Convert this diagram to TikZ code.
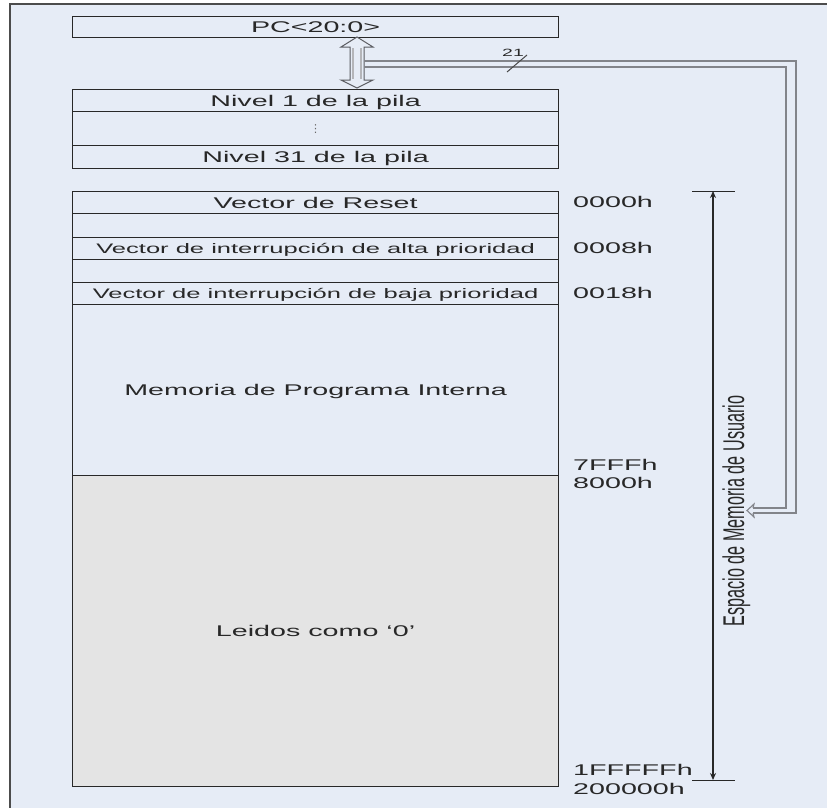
\documentclass[tikz,border=0pt]{standalone}
\usepackage{fontspec}
\setmainfont{Liberation Sans}
\newfontfamily\fA{Liberation Sans}[FakeStretch=1.85]
\newfontfamily\fB{Liberation Sans}
\newfontfamily\fD{DejaVu Sans}
\usetikzlibrary{arrows.meta}
\definecolor{bg}{RGB}{230,236,246}
\definecolor{graybox}{RGB}{228,228,228}
\definecolor{ink}{RGB}{40,40,40}
\definecolor{bus}{RGB}{130,132,138}
\tikzset{
 cell/.style={draw=ink, line width=1.2pt, fill=bg, minimum width=486pt, inner sep=0pt, anchor=north west, text=ink},
 row/.style={cell, text height=11.1pt, text depth=0pt, font=\fA\fontsize{15.5}{18}\selectfont},
 smallrow/.style={cell, text height=9.9pt, text depth=0pt, font=\fA\fontsize{13.8}{16}\selectfont},
 addr/.style={anchor=base west, inner sep=0pt, text=ink, font=\fA\fontsize{15.5}{18}\selectfont},
 busline/.style={draw=bus, line width=1.3pt},
 tick/.style={draw=ink, line width=1pt},
}
\begin{document}
\begin{tikzpicture}[x=1pt,y=-1pt]
\useasboundingbox (0,0) rectangle (827,807);
\fill[white] (0,0) rectangle (827,807);
\draw[fill=bg, draw=black!70, line width=1.2pt] (10,4) rectangle (840,820);

% stack and PC
\node[row, minimum height=21pt] (pc) at (72,16) {PC<20:0>};
\node[row, minimum height=22pt] (n1) at (72,89) {Nivel 1 de la pila};
\node[cell, minimum height=34pt, text=ink!70, font=\fD\fontsize{11}{12}\selectfont] (dots) at (72,111) {⋮};
\node[row, minimum height=23pt] (n31) at (72,145) {Nivel 31 de la pila};

% memory map
\node[row, minimum height=22pt] (reset) at (72,191) {Vector de Reset};
\node[cell, minimum height=24pt] (e1) at (72,213) {};
\node[smallrow, minimum height=22pt] (alta) at (72,237) {Vector de interrupción de alta prioridad};
\node[cell, minimum height=23pt] (e2) at (72,259) {};
\node[smallrow, minimum height=22pt] (baja) at (72,282) {Vector de interrupción de baja prioridad};
\node[row, minimum height=171pt] (mem) at (72,304) {Memoria de Programa Interna};
\node[row, minimum height=311pt, fill=graybox] (leidos) at (72,475) {Leidos como ‘0’};

% addresses
\node[addr] (a0) at (573,207.3) {0000h};
\node[addr] (a8) at (573,253.3) {0008h};
\node[addr] (a18) at (573,298.3) {0018h};
\node[addr] (a7f) at (573,470) {7FFFh};
\node[addr] (a80) at (573,488) {8000h};
\node[addr] (a1f) at (573,775.5) {1FFFFFh};
\node[addr] (a20) at (573,794) {200000h};

% user space arrow
\coordinate (top) at (713,191);
\coordinate (bot) at (713,780);
\draw[tick] ([xshift=-21pt]top) -- ([xshift=22pt]top);
\draw[tick] ([xshift=-21pt]bot) -- ([xshift=22pt]bot);
\draw[ink, line width=1.2pt, {Stealth[length=7pt,width=6pt]}-{Stealth[length=7pt,width=6pt]}] (top) -- (bot);
\node[rotate=90, anchor=base, inner sep=0pt, text=ink] (lbl) at (744,511)
  {\scalebox{1}[1.85]{\fB\fontsize{16.2}{18}\selectfont Espacio de Memoria de Usuario}};

% double arrow between PC and stack
\draw[fill=bg, draw=bus!70!black, line width=1pt]
  (357,37) -- (373,47) -- (364,47) -- (364,80) -- (373,80) -- (357,88)
  -- (341,80) -- (350,80) -- (350,47) -- (341,47) -- cycle;
\draw[bus!60, line width=2pt] (353,48) -- (353,79);
\draw[bus!60, line width=2pt] (361,48) -- (361,79);

% bus to address space
\coordinate (bo1) at (364,61);
\coordinate (bi1) at (364,67);
\coordinate (bo2) at (753,513);
\coordinate (bi2) at (753,508);
\draw[busline] (bo1) -- (796,61) -- (796,513) -- (bo2);
\draw[busline] (bi1) -- (786,67) -- (786,508) -- (bi2);
\draw[busline, line width=1.1pt] (bi2) -- (754,504) -- (747,510.5) -- (754,517) -- (bo2);
\draw[ink!85, line width=1pt] (507,72) -- (527,55);
\node[anchor=base west, inner sep=0pt, text=ink, font=\fA\fontsize{10.5}{12}\selectfont] (w21) at (502,56) {21};
\end{tikzpicture}
\end{document}
